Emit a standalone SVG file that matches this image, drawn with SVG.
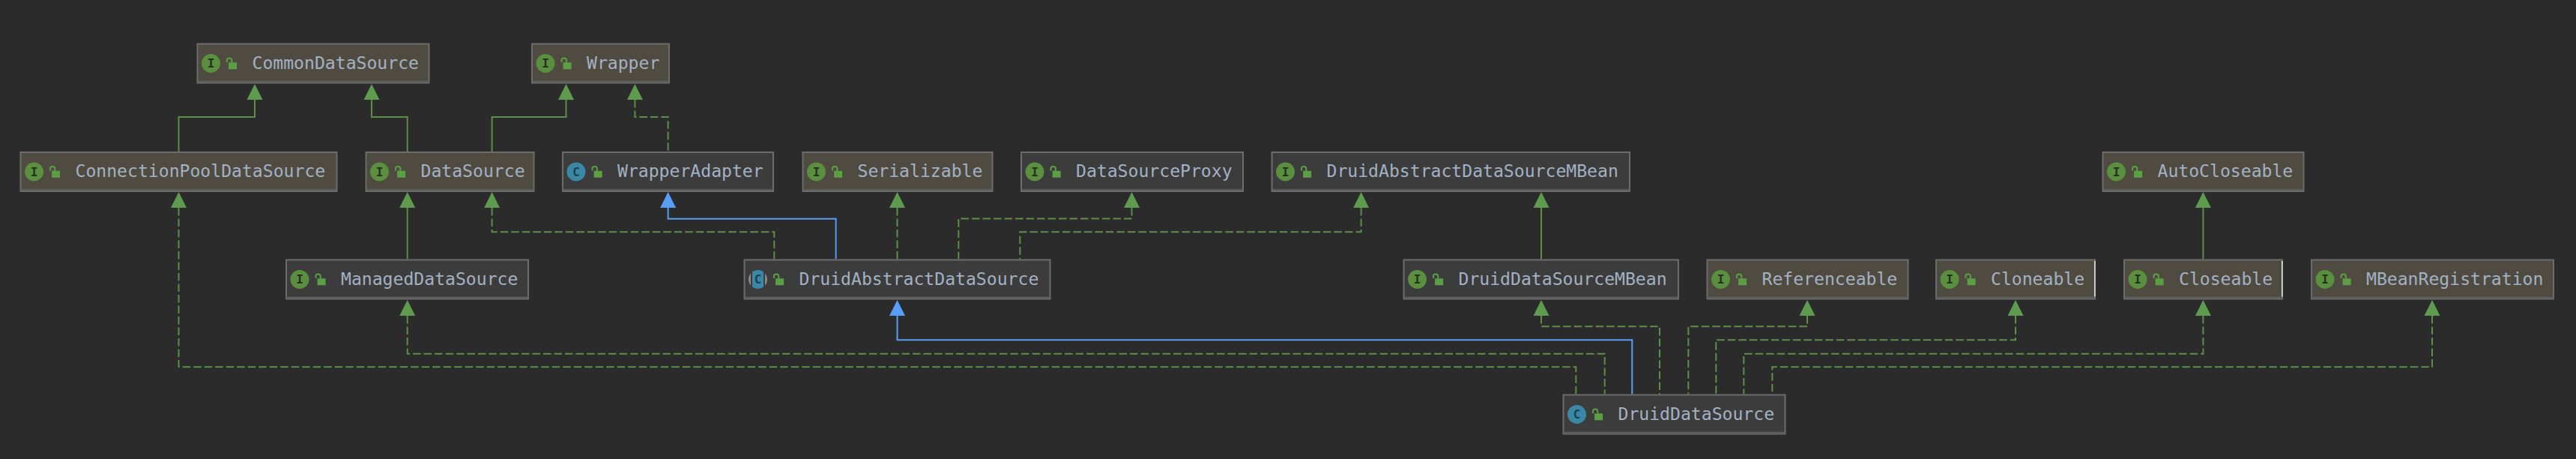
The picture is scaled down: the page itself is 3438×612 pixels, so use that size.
<svg xmlns="http://www.w3.org/2000/svg" width="3438" height="612" viewBox="0 0 3438 612">
<style>
.b{stroke:#6c6c6c;stroke-width:2}
.w{fill:#4f4b41}
.d{fill:#3c3c3c}
.s{stroke:#606060;stroke-width:1.5}
.t{font-family:"DejaVu Sans Mono","Liberation Mono",monospace;font-size:23.1px;fill:#a3b1c2}
.ic{font-family:"DejaVu Sans Mono","Liberation Mono",monospace;font-size:16px;font-weight:bold;text-anchor:middle}
.g{fill:none;stroke:#5c8f49;stroke-width:2}
.dash{stroke-dasharray:10.5 4}
.bl{fill:none;stroke:#589df6;stroke-width:2}
</style>
<defs>
<marker id="ag" markerUnits="userSpaceOnUse" markerWidth="24" markerHeight="24" viewBox="0 0 24 24" refX="1" refY="12" orient="auto-start-reverse"><path d="M1 1.5L22 12L1 22.5Z" fill="#5f9b4f"/></marker>
<marker id="ab" markerUnits="userSpaceOnUse" markerWidth="24" markerHeight="24" viewBox="0 0 24 24" refX="1" refY="12" orient="auto-start-reverse"><path d="M1 1.5L22 12L1 22.5Z" fill="#589df6"/></marker>
<g id="lock"><rect x="42.6" y="25.8" width="11" height="9" fill="#5b9e44"/><path d="M40.5 25.5V22.5Q40.5 20 43.7 20Q46.8 20 46.8 22.5V26" fill="none" stroke="#5b9e44" stroke-width="2"/></g>
<g id="ifc"><circle cx="19" cy="27" r="12.5" fill="#5a8f3f"/><text class="ic" x="19" y="32.8" fill="#27301f">I</text></g>
<g id="cls"><circle cx="19" cy="27" r="12.5" fill="#3a87a6"/><text class="ic" x="19" y="32.8" fill="#1c3f4e">C</text></g>
</defs>
<rect width="3438" height="612" fill="#2b2b2b"/>
<g id="connectors">
<path class="g" marker-start="url(#ag)" d="M340 133V156H238.5V202"/>
<path class="g" marker-start="url(#ag)" d="M496 133V156H543.7V202"/>
<path class="g" marker-start="url(#ag)" d="M755.5 133V156H656.6V202"/>
<path class="g dash" marker-start="url(#ag)" d="M847.4 133V156H891.6V202"/>
<path class="g dash" marker-start="url(#ag)" d="M238.5 277V489.3H2103.3V525.5"/>
<path class="g" marker-start="url(#ag)" d="M543.7 277V345.5"/>
<path class="g dash" marker-start="url(#ag)" d="M656.6 277V309.3H1033.3V345.5"/>
<path class="bl" marker-start="url(#ab)" d="M891.6 277V291.7H1115.6V345.5"/>
<path class="g dash" marker-start="url(#ag)" d="M1197.5 277V345.5"/>
<path class="g dash" marker-start="url(#ag)" d="M1510.5 277V291.5H1279.3V345.5"/>
<path class="g dash" marker-start="url(#ag)" d="M1816.6 277V309.3H1361.3V345.5"/>
<path class="g" marker-start="url(#ag)" d="M2057 277V345.5"/>
<path class="g" marker-start="url(#ag)" d="M2940.4 277V345.5"/>
<path class="g dash" marker-start="url(#ag)" d="M543.7 421V471.7H2141.7V525.5"/>
<path class="bl" marker-start="url(#ab)" d="M1197.5 421V453.3H2178.3V525.5"/>
<path class="g dash" marker-start="url(#ag)" d="M2057 421V435.3H2215V525.5"/>
<path class="g dash" marker-start="url(#ag)" d="M2412 421V435.3H2253.3V525.5"/>
<path class="g dash" marker-start="url(#ag)" d="M2690 421V453.3H2290.3V525.5"/>
<path class="g dash" marker-start="url(#ag)" d="M2940.4 421V471.7H2327.3V525.5"/>
<path class="g dash" marker-start="url(#ag)" d="M3246 421V489.3H2365.3V525.5"/>
</g>
<g id="CommonDataSource" transform="translate(262.5 57.5)"><rect class="b w" x="1" y="1" width="309" height="52"/><path class="s" d="M1 51H310"/><use href="#ifc"/><use href="#lock"/><text class="t" x="74" y="34">CommonDataSource</text></g>
<g id="Wrapper" transform="translate(709 57.5)"><rect class="b w" x="1" y="1" width="183" height="52"/><path class="s" d="M1 51H184"/><use href="#ifc"/><use href="#lock"/><text class="t" x="74" y="34">Wrapper</text></g>
<g id="ConnectionPoolDataSource" transform="translate(26.5 202)"><rect class="b w" x="1" y="1" width="422" height="52"/><path class="s" d="M1 51H423"/><use href="#ifc"/><use href="#lock"/><text class="t" x="74" y="34">ConnectionPoolDataSource</text></g>
<g id="DataSource" transform="translate(487.5 202)"><rect class="b w" x="1" y="1" width="224" height="52"/><path class="s" d="M1 51H225"/><use href="#ifc"/><use href="#lock"/><text class="t" x="74" y="34">DataSource</text></g>
<g id="WrapperAdapter" transform="translate(750 202)"><rect class="b d" x="1" y="1" width="281" height="52"/><path class="s" d="M1 51H282"/><use href="#cls"/><use href="#lock"/><text class="t" x="74" y="34">WrapperAdapter</text></g>
<g id="Serializable" transform="translate(1070.5 202)"><rect class="b w" x="1" y="1" width="253" height="52"/><path class="s" d="M1 51H254"/><use href="#ifc"/><use href="#lock"/><text class="t" x="74" y="34">Serializable</text></g>
<g id="DataSourceProxy" transform="translate(1362 202)"><rect class="b d" x="1" y="1" width="296" height="52"/><path class="s" d="M1 51H297"/><use href="#ifc"/><use href="#lock"/><text class="t" x="74" y="34">DataSourceProxy</text></g>
<g id="DruidAbstractDataSourceMBean" transform="translate(1696.5 202)"><rect class="b d" x="1" y="1" width="477.5" height="52"/><path class="s" d="M1 51H478.5"/><use href="#ifc"/><use href="#lock"/><text class="t" x="74" y="34">DruidAbstractDataSourceMBean</text></g>
<g id="AutoCloseable" transform="translate(2805.5 202)"><rect class="b w" x="1" y="1" width="268" height="52"/><path class="s" d="M1 51H269"/><use href="#ifc"/><use href="#lock"/><text class="t" x="74" y="34">AutoCloseable</text></g>
<g id="ManagedDataSource" transform="translate(381 345.5)"><rect class="b d" x="1" y="1" width="323" height="52"/><path class="s" d="M1 51H324"/><use href="#ifc"/><use href="#lock"/><text class="t" x="74" y="34">ManagedDataSource</text></g>
<g id="DruidAbstractDataSource" transform="translate(992.5 345.5)"><rect class="b d" x="1" y="1" width="408" height="52"/><path class="s" d="M1 51H409"/><circle cx="19" cy="27" r="12.5" fill="#8a8a8a"/><rect x="9.5" y="14" width="19" height="26" fill="#3c3c3c"/><path d="M11.5 17A12.5 12.5 0 0 1 26.5 17V37A12.5 12.5 0 0 1 11.5 37Z" fill="#3a87a6"/><text class="ic" x="19" y="32.8" fill="#1c3f4e">C</text><use href="#lock"/><text class="t" x="74" y="34">DruidAbstractDataSource</text></g>
<g id="DruidDataSourceMBean" transform="translate(1872.5 345.5)"><rect class="b d" x="1" y="1" width="366.5" height="52"/><path class="s" d="M1 51H367.5"/><use href="#ifc"/><use href="#lock"/><text class="t" x="74" y="34">DruidDataSourceMBean</text></g>
<g id="Referenceable" transform="translate(2277.5 345.5)"><rect class="b w" x="1" y="1" width="268" height="52"/><path class="s" d="M1 51H269"/><use href="#ifc"/><use href="#lock"/><text class="t" x="74" y="34">Referenceable</text></g>
<g id="Cloneable" transform="translate(2583 345.5)"><rect class="b w" x="1" y="1" width="212" height="52"/><path class="s" d="M1 51H213"/><path d="M212.8 2.5V50" stroke="#e8e8e8" stroke-width="1.5"/><use href="#ifc"/><use href="#lock"/><text class="t" x="74" y="34">Cloneable</text></g>
<g id="Closeable" transform="translate(2834 345.5)"><rect class="b w" x="1" y="1" width="211" height="52"/><path class="s" d="M1 51H212"/><path d="M211.8 2.5V50" stroke="#e8e8e8" stroke-width="1.5"/><use href="#ifc"/><use href="#lock"/><text class="t" x="74" y="34">Closeable</text></g>
<g id="MBeanRegistration" transform="translate(3084 345.5)"><rect class="b w" x="1" y="1" width="323" height="52"/><path class="s" d="M1 51H324"/><use href="#ifc"/><use href="#lock"/><text class="t" x="74" y="34">MBeanRegistration</text></g>
<g id="DruidDataSource" transform="translate(2085.5 525.5)"><rect class="b d" x="1" y="1" width="296" height="52"/><path class="s" d="M1 51H297"/><use href="#cls"/><use href="#lock"/><text class="t" x="74" y="34">DruidDataSource</text></g>
</svg>
